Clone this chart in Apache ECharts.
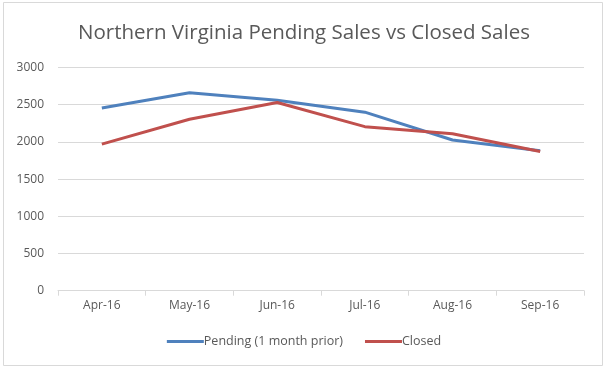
<!DOCTYPE html>
<html><head><meta charset="utf-8">
<script src="https://cdn.jsdelivr.net/npm/echarts@6/dist/echarts.min.js"></script>
<style>html,body{margin:0;padding:0;background:#fff}#c{width:608px;height:373px}</style>
</head><body><div id="c"></div>
<script>
const categories = ['Apr-16','May-16','Jun-16','Jul-16','Aug-16','Sep-16'];
const pending = [2455, 2660, 2560, 2400, 2025, 1880];
const closed = [1970, 2305, 2530, 2205, 2110, 1870];
const yTicks = [0, 500, 1000, 1500, 2000, 2500, 3000];
const titleText = 'Northern Virginia Pending Sales vs Closed Sales';
const seriesNames = ['Pending (1 month prior)', 'Closed'];

const chart = echarts.init(document.getElementById('c'), null, {renderer:'canvas'});
const font = "'Open Sans', 'Liberation Sans', sans-serif";
chart.setOption({
  animation:false,
  backgroundColor:'#fff',
  graphic:[{type:'rect', shape:{x:3.5,y:2.5,width:599,height:363}, style:{fill:'none', stroke:'#d9d9d9', lineWidth:1}, silent:true}],
  title:{text:titleText, left:'center', top:18, textStyle:{fontFamily:font, fontWeight:'normal', fontSize:20.5, color:'#595959'}},
  legend:{bottom:20, left:'center', itemWidth:37, itemHeight:3, itemGap:22, icon:'rect',
    textStyle:{fontFamily:font, fontSize:12.5, color:'#595959', padding:[0,0,0,-5]}, data:seriesNames},
  grid:{left:58, right:24, top:67.5, bottom:82.3, containLabel:false},
  xAxis:{type:'category', data:categories, boundaryGap:true,
    axisLine:{lineStyle:{color:'#d9d9d9', width:1}},
    axisTick:{show:true, length:5, lineStyle:{color:'#d9d9d9'}},
    axisLabel:{fontFamily:font, fontSize:12, color:'#595959', margin:9}},
  yAxis:{type:'value', min:yTicks[0], max:yTicks[yTicks.length-1], interval:500,
    axisLine:{show:false}, axisTick:{show:false},
    splitLine:{lineStyle:{color:'#d9d9d9', width:1}},
    axisLabel:{fontFamily:font, fontSize:12, color:'#595959', margin:14, formatter:v=>String(v)}},
  series:[
    {name:seriesNames[0], type:'line', data:pending, symbol:'none', lineStyle:{width:3, color:'#4F81BD'}, itemStyle:{color:'#4F81BD'}},
    {name:seriesNames[1], type:'line', data:closed, symbol:'none', lineStyle:{width:3, color:'#C0504D'}, itemStyle:{color:'#C0504D'}}
  ]
});
</script></body></html>
